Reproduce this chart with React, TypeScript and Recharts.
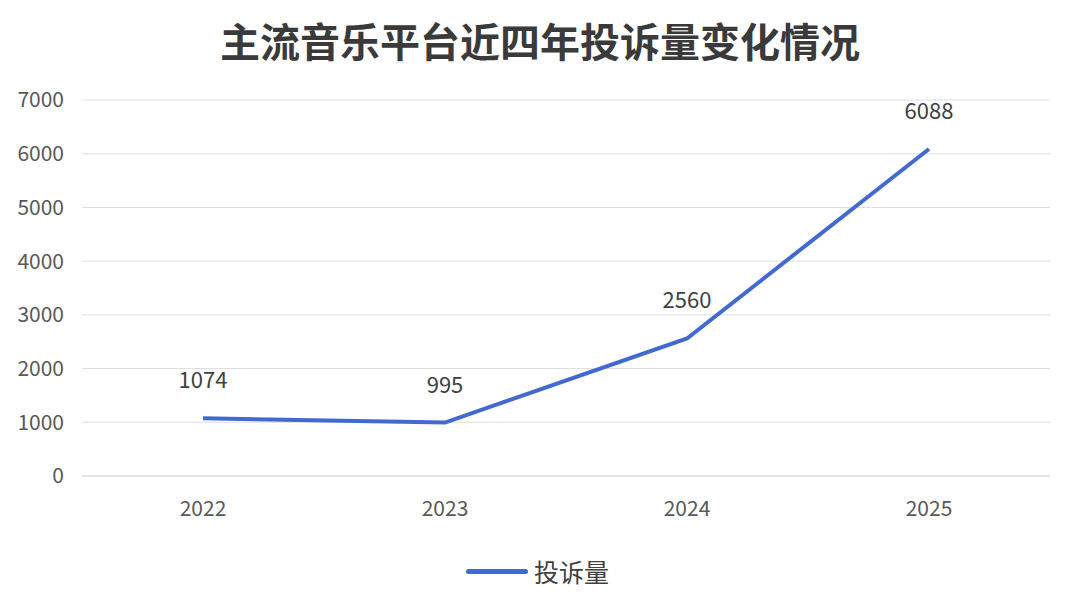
import {
  LineChart,
  CartesianGrid,
  XAxis,
  YAxis,
  Line,
  LabelList,
} from 'recharts'

const years = ['2022', '2023', '2024', '2025']
const complaints = [1074, 995, 2560, 6088]
const yTicks = [0, 1000, 2000, 3000, 4000, 5000, 6000, 7000]
const seriesName = '投诉量'
const title = '主流音乐平台近四年投诉量变化情况'

const data = years.map((year, i) => ({year, count: complaints[i]}))

const FONT = '"Noto Sans CJK SC", "Noto Sans", sans-serif'
const LINE_COLOR = '#4169cf'

export default function App() {
  return (
    <div style={{position: 'absolute', left: 0, top: 0, width: 1080, height: 603, background: '#fff'}}>
      <div style={{
        position: 'absolute', left: 0, top: 14, width: 1080, textAlign: 'center',
        fontFamily: FONT, fontWeight: 'bold', fontSize: 40, lineHeight: '52px', color: '#3a3a3a',
      }}>
        {title}
      </div>
      <LineChart width={1080} height={603} data={data}
                 margin={{top: 100, right: 30, bottom: 87, left: 0}}
      >
        <CartesianGrid vertical={false} stroke='#dedede'/>
        <XAxis dataKey='year' height={40} padding={{left: 121, right: 121}}
               axisLine={{stroke: '#d6d6d6'}} tickLine={false} tickMargin={19}
               tick={{fontSize: 21, fill: '#595959', fontFamily: FONT}}/>
        <YAxis width={82} domain={[0, 7000]} ticks={yTicks} interval={0}
               axisLine={false} tickLine={false} tickMargin={12}
               tick={{fontSize: 21, fill: '#595959', fontFamily: FONT}}/>
        <Line type='linear' dataKey='count' name={seriesName} stroke={LINE_COLOR}
              strokeWidth={4} dot={false} activeDot={false} isAnimationActive={false}>
          <LabelList dataKey='count' position='top' offset={30}
                     style={{fontSize: 22, fill: '#404040', fontFamily: FONT}}/>
        </Line>
      </LineChart>
      <div style={{
        position: 'absolute', left: 466, top: 554, height: 34, display: 'flex', alignItems: 'center',
        fontFamily: FONT, fontSize: 25, color: '#404040',
      }}>
        <span style={{display: 'inline-block', width: 62, height: 5, borderRadius: 3, background: LINE_COLOR, marginRight: 6}}/>
        {seriesName}
      </div>
    </div>
  )
}
